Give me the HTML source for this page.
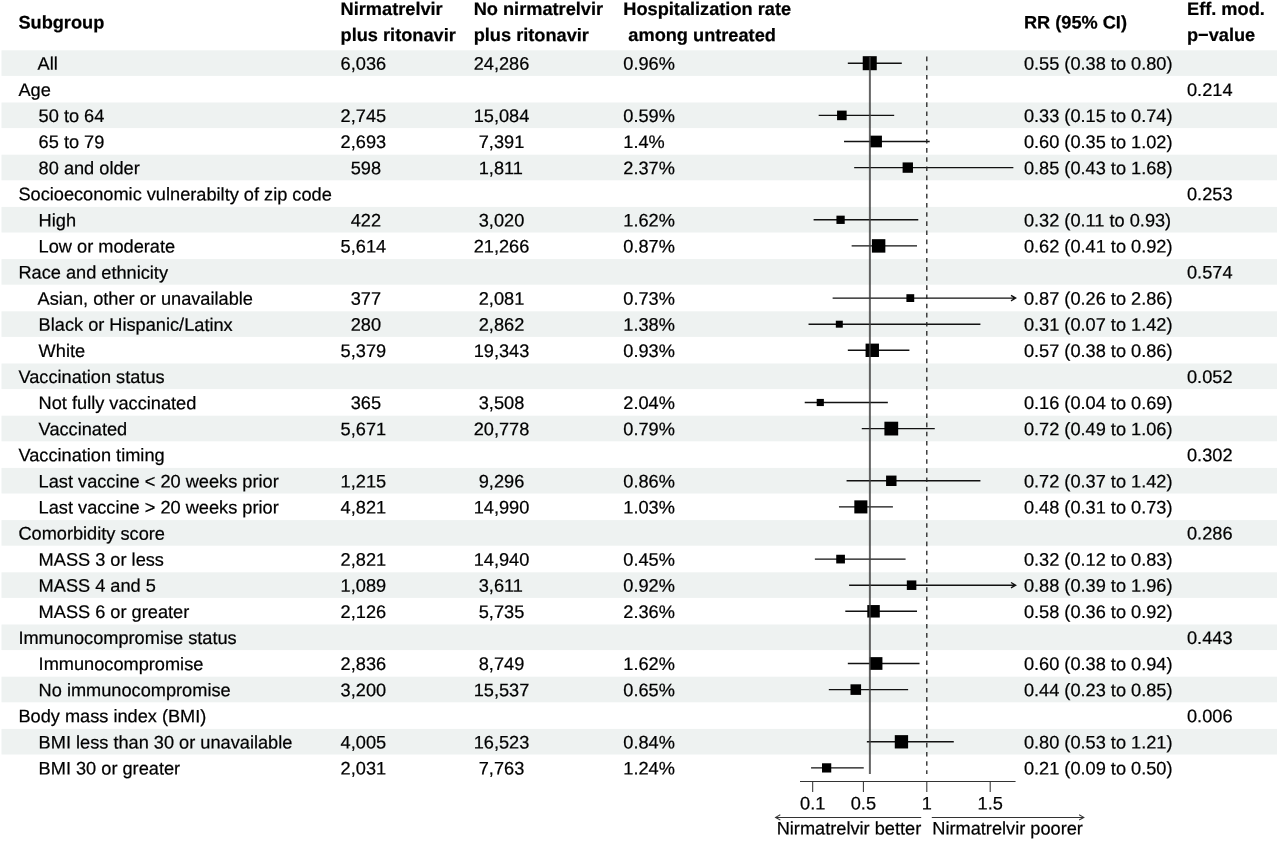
<!DOCTYPE html>
<html lang="en"><head><meta charset="utf-8"><title>Forest plot</title>
<style>
html,body{margin:0;padding:0;background:#fff;}
body{width:1280px;height:841px;overflow:hidden;}
svg{display:block;}
text{font-family:"Liberation Sans",sans-serif;font-size:18.2px;fill:#000;stroke:#000;stroke-width:0.22px;white-space:pre;text-rendering:geometricPrecision;}
.b{font-weight:bold;}
</style></head><body>
<svg width="1280" height="841" viewBox="0 0 1280 841">
<rect x="0" y="0" width="1280" height="841" fill="#fff"/>
<g fill="#eef2f1">
<rect x="1.5" y="50.30" width="1275.5" height="25.60"/>
<rect x="1.5" y="102.50" width="1275.5" height="25.60"/>
<rect x="1.5" y="154.70" width="1275.5" height="25.60"/>
<rect x="1.5" y="206.90" width="1275.5" height="25.60"/>
<rect x="1.5" y="259.10" width="1275.5" height="25.60"/>
<rect x="1.5" y="311.30" width="1275.5" height="25.60"/>
<rect x="1.5" y="363.50" width="1275.5" height="25.60"/>
<rect x="1.5" y="415.70" width="1275.5" height="25.60"/>
<rect x="1.5" y="467.90" width="1275.5" height="25.60"/>
<rect x="1.5" y="520.10" width="1275.5" height="25.60"/>
<rect x="1.5" y="572.30" width="1275.5" height="25.60"/>
<rect x="1.5" y="624.50" width="1275.5" height="25.60"/>
<rect x="1.5" y="676.70" width="1275.5" height="25.60"/>
<rect x="1.5" y="728.90" width="1275.5" height="25.60"/>
</g>
<g class="b" transform="matrix(1 0.0005 0 1 0 0)">
<text x="18.40" y="28.49" xml:space="preserve">Subgroup</text>
<text x="340.60" y="14.83" xml:space="preserve">Nirmatrelvir</text>
<text x="340.60" y="40.93" xml:space="preserve">plus ritonavir</text>
<text x="473.70" y="14.76" xml:space="preserve">No nirmatrelvir</text>
<text x="473.70" y="40.86" xml:space="preserve">plus ritonavir</text>
<text x="623.30" y="14.69" xml:space="preserve">Hospitalization rate</text>
<text x="623.30" y="40.79" xml:space="preserve"> among untreated</text>
<text x="1023.90" y="27.99" xml:space="preserve">RR (95% CI)</text>
<text x="1187.00" y="14.41" xml:space="preserve">Eff. mod.</text>
<text x="1187.00" y="40.51" xml:space="preserve">p−value</text>
</g>
<g transform="matrix(1 0.0005 0 1 0 0)">
<text x="18.40" y="69.79" xml:space="preserve">    All</text>
<text x="340.60" y="69.63" xml:space="preserve">6,036</text>
<text x="473.70" y="69.56" xml:space="preserve">24,286</text>
<text x="623.30" y="69.49" xml:space="preserve">0.96%</text>
<text x="1023.90" y="69.29" xml:space="preserve">0.55 (0.38 to 0.80)</text>
<text x="18.40" y="95.89" xml:space="preserve">Age</text>
<text x="1187.00" y="95.31" xml:space="preserve">0.214</text>
<text x="18.40" y="121.99" xml:space="preserve">    50 to 64</text>
<text x="340.60" y="121.83" xml:space="preserve">2,745</text>
<text x="473.70" y="121.76" xml:space="preserve">15,084</text>
<text x="623.30" y="121.69" xml:space="preserve">0.59%</text>
<text x="1023.90" y="121.49" xml:space="preserve">0.33 (0.15 to 0.74)</text>
<text x="18.40" y="148.09" xml:space="preserve">    65 to 79</text>
<text x="340.60" y="147.93" xml:space="preserve">2,693</text>
<text x="473.70" y="147.86" xml:space="preserve"> 7,391</text>
<text x="623.30" y="147.79" xml:space="preserve">1.4%</text>
<text x="1023.90" y="147.59" xml:space="preserve">0.60 (0.35 to 1.02)</text>
<text x="18.40" y="174.19" xml:space="preserve">    80 and older</text>
<text x="340.60" y="174.03" xml:space="preserve">  598</text>
<text x="473.70" y="173.96" xml:space="preserve"> 1,811</text>
<text x="623.30" y="173.89" xml:space="preserve">2.37%</text>
<text x="1023.90" y="173.69" xml:space="preserve">0.85 (0.43 to 1.68)</text>
<text x="18.40" y="200.29" xml:space="preserve">Socioeconomic vulnerabilty of zip code</text>
<text x="1187.00" y="199.71" xml:space="preserve">0.253</text>
<text x="18.40" y="226.39" xml:space="preserve">    High</text>
<text x="340.60" y="226.23" xml:space="preserve">  422</text>
<text x="473.70" y="226.16" xml:space="preserve"> 3,020</text>
<text x="623.30" y="226.09" xml:space="preserve">1.62%</text>
<text x="1023.90" y="225.89" xml:space="preserve">0.32 (0.11 to 0.93)</text>
<text x="18.40" y="252.49" xml:space="preserve">    Low or moderate</text>
<text x="340.60" y="252.33" xml:space="preserve">5,614</text>
<text x="473.70" y="252.26" xml:space="preserve">21,266</text>
<text x="623.30" y="252.19" xml:space="preserve">0.87%</text>
<text x="1023.90" y="251.99" xml:space="preserve">0.62 (0.41 to 0.92)</text>
<text x="18.40" y="278.59" xml:space="preserve">Race and ethnicity</text>
<text x="1187.00" y="278.01" xml:space="preserve">0.574</text>
<text x="18.40" y="304.69" xml:space="preserve">    Asian, other or unavailable</text>
<text x="340.60" y="304.53" xml:space="preserve">  377</text>
<text x="473.70" y="304.46" xml:space="preserve"> 2,081</text>
<text x="623.30" y="304.39" xml:space="preserve">0.73%</text>
<text x="1023.90" y="304.19" xml:space="preserve">0.87 (0.26 to 2.86)</text>
<text x="18.40" y="330.79" xml:space="preserve">    Black or Hispanic/Latinx</text>
<text x="340.60" y="330.63" xml:space="preserve">  280</text>
<text x="473.70" y="330.56" xml:space="preserve"> 2,862</text>
<text x="623.30" y="330.49" xml:space="preserve">1.38%</text>
<text x="1023.90" y="330.29" xml:space="preserve">0.31 (0.07 to 1.42)</text>
<text x="18.40" y="356.89" xml:space="preserve">    White</text>
<text x="340.60" y="356.73" xml:space="preserve">5,379</text>
<text x="473.70" y="356.66" xml:space="preserve">19,343</text>
<text x="623.30" y="356.59" xml:space="preserve">0.93%</text>
<text x="1023.90" y="356.39" xml:space="preserve">0.57 (0.38 to 0.86)</text>
<text x="18.40" y="382.99" xml:space="preserve">Vaccination status</text>
<text x="1187.00" y="382.41" xml:space="preserve">0.052</text>
<text x="18.40" y="409.09" xml:space="preserve">    Not fully vaccinated</text>
<text x="340.60" y="408.93" xml:space="preserve">  365</text>
<text x="473.70" y="408.86" xml:space="preserve"> 3,508</text>
<text x="623.30" y="408.79" xml:space="preserve">2.04%</text>
<text x="1023.90" y="408.59" xml:space="preserve">0.16 (0.04 to 0.69)</text>
<text x="18.40" y="435.19" xml:space="preserve">    Vaccinated</text>
<text x="340.60" y="435.03" xml:space="preserve">5,671</text>
<text x="473.70" y="434.96" xml:space="preserve">20,778</text>
<text x="623.30" y="434.89" xml:space="preserve">0.79%</text>
<text x="1023.90" y="434.69" xml:space="preserve">0.72 (0.49 to 1.06)</text>
<text x="18.40" y="461.29" xml:space="preserve">Vaccination timing</text>
<text x="1187.00" y="460.71" xml:space="preserve">0.302</text>
<text x="18.40" y="487.39" xml:space="preserve">    Last vaccine &lt; 20 weeks prior</text>
<text x="340.60" y="487.23" xml:space="preserve">1,215</text>
<text x="473.70" y="487.16" xml:space="preserve"> 9,296</text>
<text x="623.30" y="487.09" xml:space="preserve">0.86%</text>
<text x="1023.90" y="486.89" xml:space="preserve">0.72 (0.37 to 1.42)</text>
<text x="18.40" y="513.49" xml:space="preserve">    Last vaccine &gt; 20 weeks prior</text>
<text x="340.60" y="513.33" xml:space="preserve">4,821</text>
<text x="473.70" y="513.26" xml:space="preserve">14,990</text>
<text x="623.30" y="513.19" xml:space="preserve">1.03%</text>
<text x="1023.90" y="512.99" xml:space="preserve">0.48 (0.31 to 0.73)</text>
<text x="18.40" y="539.59" xml:space="preserve">Comorbidity score</text>
<text x="1187.00" y="539.01" xml:space="preserve">0.286</text>
<text x="18.40" y="565.69" xml:space="preserve">    MASS 3 or less</text>
<text x="340.60" y="565.53" xml:space="preserve">2,821</text>
<text x="473.70" y="565.46" xml:space="preserve">14,940</text>
<text x="623.30" y="565.39" xml:space="preserve">0.45%</text>
<text x="1023.90" y="565.19" xml:space="preserve">0.32 (0.12 to 0.83)</text>
<text x="18.40" y="591.79" xml:space="preserve">    MASS 4 and 5</text>
<text x="340.60" y="591.63" xml:space="preserve">1,089</text>
<text x="473.70" y="591.56" xml:space="preserve"> 3,611</text>
<text x="623.30" y="591.49" xml:space="preserve">0.92%</text>
<text x="1023.90" y="591.29" xml:space="preserve">0.88 (0.39 to 1.96)</text>
<text x="18.40" y="617.89" xml:space="preserve">    MASS 6 or greater</text>
<text x="340.60" y="617.73" xml:space="preserve">2,126</text>
<text x="473.70" y="617.66" xml:space="preserve"> 5,735</text>
<text x="623.30" y="617.59" xml:space="preserve">2.36%</text>
<text x="1023.90" y="617.39" xml:space="preserve">0.58 (0.36 to 0.92)</text>
<text x="18.40" y="643.99" xml:space="preserve">Immunocompromise status</text>
<text x="1187.00" y="643.41" xml:space="preserve">0.443</text>
<text x="18.40" y="670.09" xml:space="preserve">    Immunocompromise</text>
<text x="340.60" y="669.93" xml:space="preserve">2,836</text>
<text x="473.70" y="669.86" xml:space="preserve"> 8,749</text>
<text x="623.30" y="669.79" xml:space="preserve">1.62%</text>
<text x="1023.90" y="669.59" xml:space="preserve">0.60 (0.38 to 0.94)</text>
<text x="18.40" y="696.19" xml:space="preserve">    No immunocompromise</text>
<text x="340.60" y="696.03" xml:space="preserve">3,200</text>
<text x="473.70" y="695.96" xml:space="preserve">15,537</text>
<text x="623.30" y="695.89" xml:space="preserve">0.65%</text>
<text x="1023.90" y="695.69" xml:space="preserve">0.44 (0.23 to 0.85)</text>
<text x="18.40" y="722.29" xml:space="preserve">Body mass index (BMI)</text>
<text x="1187.00" y="721.71" xml:space="preserve">0.006</text>
<text x="18.40" y="748.39" xml:space="preserve">    BMI less than 30 or unavailable</text>
<text x="340.60" y="748.23" xml:space="preserve">4,005</text>
<text x="473.70" y="748.16" xml:space="preserve">16,523</text>
<text x="623.30" y="748.09" xml:space="preserve">0.84%</text>
<text x="1023.90" y="747.89" xml:space="preserve">0.80 (0.53 to 1.21)</text>
<text x="18.40" y="774.49" xml:space="preserve">    BMI 30 or greater</text>
<text x="340.60" y="774.33" xml:space="preserve">2,031</text>
<text x="473.70" y="774.26" xml:space="preserve"> 7,763</text>
<text x="623.30" y="774.19" xml:space="preserve">1.24%</text>
<text x="1023.90" y="773.99" xml:space="preserve">0.21 (0.09 to 0.50)</text>
</g>
<g stroke="#111" stroke-width="1.4" fill="none">
<path d="M847.83 63.20H901.79"/>
<path d="M818.67 115.40H894.18"/>
<path d="M844.03 141.50H929.69"/>
<path d="M854.17 167.60H1013.37"/>
<path d="M813.60 219.80H918.27"/>
<path d="M851.64 245.90H917.01"/>
<path d="M832.62 298.10H1015.60M1011.00 295.40L1015.60 298.10L1011.00 300.80"/>
<path d="M808.53 324.20H980.41"/>
<path d="M847.83 350.30H909.40"/>
<path d="M804.72 402.50H887.84"/>
<path d="M861.78 428.60H934.76"/>
<path d="M846.57 480.80H980.41"/>
<path d="M838.96 506.90H892.91"/>
<path d="M814.87 559.10H905.59"/>
<path d="M849.10 585.20H1015.60M1011.00 582.50L1015.60 585.20L1011.00 587.90"/>
<path d="M845.30 611.30H917.01"/>
<path d="M847.83 663.50H919.54"/>
<path d="M828.81 689.60H908.13"/>
<path d="M866.85 741.80H953.78"/>
<path d="M811.06 767.90H863.75"/>
</g>
<g fill="#000">
<rect x="862.73" y="56.19" width="14.02" height="14.02"/>
<rect x="837.06" y="110.61" width="9.58" height="9.58"/>
<rect x="870.23" y="135.65" width="11.70" height="11.70"/>
<rect x="902.60" y="162.42" width="10.37" height="10.37"/>
<rect x="836.44" y="215.66" width="8.28" height="8.28"/>
<rect x="871.89" y="239.17" width="13.46" height="13.46"/>
<rect x="906.41" y="294.19" width="7.81" height="7.81"/>
<rect x="835.82" y="320.71" width="6.97" height="6.97"/>
<rect x="865.58" y="343.61" width="13.39" height="13.39"/>
<rect x="816.70" y="398.91" width="7.17" height="7.17"/>
<rect x="884.41" y="421.71" width="13.77" height="13.77"/>
<rect x="886.08" y="475.58" width="10.43" height="10.43"/>
<rect x="854.33" y="500.36" width="13.07" height="13.07"/>
<rect x="836.23" y="554.75" width="8.70" height="8.70"/>
<rect x="906.82" y="580.44" width="9.52" height="9.52"/>
<rect x="867.30" y="605.05" width="12.49" height="12.49"/>
<rect x="869.72" y="657.14" width="12.71" height="12.71"/>
<rect x="850.50" y="684.31" width="10.58" height="10.58"/>
<rect x="894.78" y="735.14" width="13.32" height="13.32"/>
<rect x="822.01" y="763.28" width="9.24" height="9.24"/>
</g>
<path d="M869.89 56.8V774" stroke="#3c3c3c" stroke-opacity="0.8" stroke-width="2" fill="none"/>
<path d="M926.80 56.6V774" stroke="#222" stroke-width="1.3" stroke-dasharray="4.6 4.55" fill="none"/>
<g stroke="#333" stroke-width="1.05" fill="none">
<path d="M800.00 781.5H1015.56"/>
<path d="M812.68 781.5V791.9"/>
<path d="M863.40 781.5V791.9"/>
<path d="M926.80 781.5V791.9"/>
<path d="M990.20 781.5V791.9"/>
<path d="M921.2 817.40H775.6M780.3 814.80L775.6 817.40L780.3 820.00"/>
<path d="M931.8 817.40H1083.8M1079.1 814.80L1083.8 817.40L1079.1 820.00"/>
</g>
<g text-anchor="middle" transform="matrix(1 0.0005 0 1 0 0)">
<text x="812.68" y="809.09" xml:space="preserve">0.1</text>
<text x="863.40" y="809.07" xml:space="preserve">0.5</text>
<text x="926.80" y="809.04" xml:space="preserve">1</text>
<text x="990.20" y="809.00" xml:space="preserve">1.5</text>
</g>
<g transform="matrix(1 0.0005 0 1 0 0)">
<text x="921.20" y="834.04" xml:space="preserve" text-anchor="end">Nirmatrelvir better</text>
<text x="932.30" y="834.03" xml:space="preserve">Nirmatrelvir poorer</text>
</g>
</svg>
</body></html>
